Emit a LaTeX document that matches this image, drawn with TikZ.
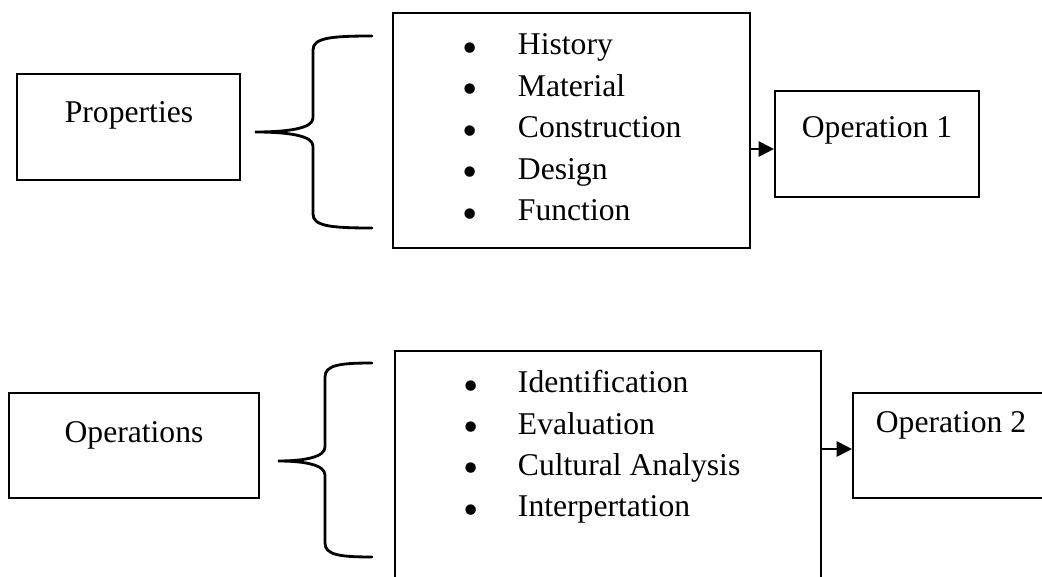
\documentclass[tikz,border=0pt]{standalone}
\usepackage{fontspec}
\setmainfont{Liberation Serif}
\usetikzlibrary{arrows.meta, positioning}

\begin{document}
\begin{tikzpicture}[x=0.025cm, y=-0.025cm,
  every node/.style={font=\fontsize{22.5}{27}\selectfont},
  box/.style={draw, line width=1.5pt},
  dot/.style={anchor=base, font=\fontsize{31}{31}\selectfont, yshift=-0.18cm},
  brace/.style={line width=2pt, line cap=round},
  arr/.style={line width=1.5pt, -{Triangle[length=0.38cm, width=0.38cm]}}]
\useasboundingbox (0,0) rectangle (1042,577);
\clip (0,0) rectangle (1042,577);

% first row
\node[box, minimum width=5.575cm, minimum height=2.65cm] (prop) at (128.5,127) {};
\node[anchor=base] at (129,123) {Properties};
\draw[brace] (372,36) .. controls (330,36) and (313,38) .. (313,50) -- (313,118)
  .. controls (313,128) and (290,132) .. (255,132)
  .. controls (290,132) and (313,136) .. (313,146) -- (313,214)
  .. controls (313,226) and (330,228) .. (372,228);
\node[box, minimum width=8.925cm, minimum height=5.875cm] (list1) at (571.5,130.5) {};
\node[dot] (b1) at (470,55) {•};
\node[anchor=base west] (history) at (513,55) {History};
\node[dot] (b2) at (470,96.5) {•};
\node[anchor=base west] (material) at (513,96.5) {Material};
\node[dot] (b3) at (470,138) {•};
\node[anchor=base west] (construction) at (513,138) {Construction};
\node[dot] (b4) at (470,179.5) {•};
\node[anchor=base west] (design) at (513,179.5) {Design};
\node[dot] (b5) at (470,221) {•};
\node[anchor=base west] (function) at (513,221) {Function};
\node[box, minimum width=5.1cm, minimum height=2.65cm] (op1) at (877,144) {};
\node[anchor=base] at (877,138) {Operation 1};
\draw[arr] (list1.east |- 0,149) -- (op1.west |- 0,149);

% second row
\node[box, minimum width=6.25cm, minimum height=2.625cm] (oper) at (134,445.5) {};
\node[anchor=base] at (134,442) {Operations};
\draw[brace] (372,363) .. controls (340,363) and (325,365) .. (325,377) -- (325,447)
  .. controls (325,457) and (305,461) .. (278,461)
  .. controls (305,461) and (325,465) .. (325,475) -- (325,543)
  .. controls (325,555) and (340,557) .. (372,557);
\node[box, minimum width=10.65cm, minimum height=6.5cm] (list2) at (608,481) {};
\node[dot] (c1) at (471,393) {•};
\node[anchor=base west] (ident) at (513,393) {Identification};
\node[dot] (c2) at (471,434) {•};
\node[anchor=base west] (eval) at (513,434) {Evaluation};
\node[dot] (c3) at (471,475.5) {•};
\node[anchor=base west] (cult) at (513,475.5) {Cultural Analysis};
\node[dot] (c4) at (471,517) {•};
\node[anchor=base west] (interp) at (513,517) {Interpertation};
\node[box, minimum width=5.1cm, minimum height=2.625cm] (op2) at (955,445.5) {};
\node[anchor=base] at (951,432) {Operation 2};
\draw[arr] (list2.east |- 0,449) -- (op2.west |- 0,449);
\end{tikzpicture}
\end{document}
